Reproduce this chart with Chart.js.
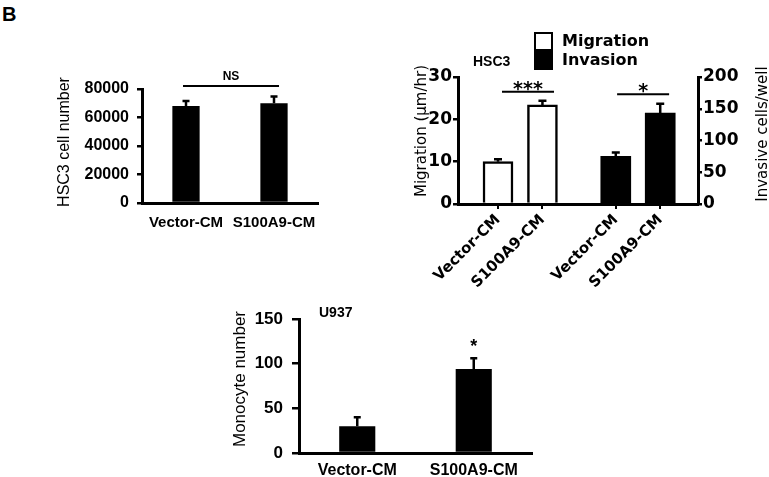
<!DOCTYPE html>
<html>
<head>
<meta charset="utf-8">
<script src="https://cdn.jsdelivr.net/npm/chart.js@4.4.1/dist/chart.umd.min.js"></script>
<style>
  body { margin: 0; background: #fff; }
  #wrap { position: relative; width: 769px; height: 477px; overflow: hidden; background: #fff; }
  canvas { position: absolute; }
  #tag { position: absolute; left: 2px; top: 3px; font: bold 20px "Liberation Sans", Arial, sans-serif; }
</style>
</head>
<body>
<div id="wrap">
  <div id="tag">B</div>
  <canvas id="countChart" width="279" height="190" style="left:51px;top:50px"></canvas>
  <canvas id="migChart" width="359" height="300" style="left:410px;top:0px"></canvas>
  <canvas id="monoChart" width="316" height="197" style="left:226px;top:280px"></canvas>
</div>
<script>
// HSC3 cell count
const countLabels = ['Vector-CM', 'S100A9-CM'];
const countMean = [68000, 70000];
const countSem = [3500, 4800];

// HSC3 migration / invasion
const migLabels = ['Vector-CM', 'S100A9-CM', 'Vector-CM', 'S100A9-CM'];
const migrationMean = [10, 23.4];
const migrationSem = [0.6, 1.0];
const invasionMean = [75, 143];
const invasionSem = [6, 15];

// U937 monocyte recruitment
const monoLabels = ['Vector-CM', 'S100A9-CM'];
const monoMean = [30, 94];
const monoSem = [10, 12];

const ARIAL = '"Liberation Sans", Arial, sans-serif';
const DEJAVU = '"DejaVu Sans", sans-serif';
Chart.defaults.font.family = ARIAL;
Chart.defaults.color = '#000';

// upper error bars
const errorBars = {
  id: 'errorBars',
  afterDatasetsDraw(chart, args, opts) {
    const ctx = chart.ctx;
    ctx.save();
    ctx.strokeStyle = '#000';
    ctx.lineWidth = opts.width || 2.5;
    chart.data.datasets.forEach((ds, i) => {
      const meta = chart.getDatasetMeta(i);
      const scale = chart.scales[meta.yAxisID];
      meta.data.forEach((bar, j) => {
        const v = meta.controller.getParsed(j).y;
        const top = scale.getPixelForValue(v + ds.errors[j]);
        const cap = opts.cap || 4;
        ctx.beginPath();
        ctx.moveTo(bar.x, bar.y);
        ctx.lineTo(bar.x, top);
        ctx.moveTo(bar.x - cap, top);
        ctx.lineTo(bar.x + cap, top);
        ctx.stroke();
      });
    });
    ctx.restore();
  }
};

// significance lines and stars
const sigMarks = {
  id: 'sigMarks',
  afterDraw(chart, args, opts) {
    const ctx = chart.ctx;
    const xs = chart.scales.x;
    ctx.save();
    ctx.strokeStyle = '#000';
    ctx.fillStyle = '#000';
    ctx.lineWidth = 2;
    ctx.font = opts.font;
    ctx.textAlign = 'center';
    ctx.textBaseline = 'alphabetic';
    (opts.marks || []).forEach(m => {
      const ys = chart.scales[m.axis || 'y'];
      const x1 = xs.getPixelForValue(m.x1);
      const x2 = xs.getPixelForValue(m.x2);
      const y = ys.getPixelForValue(m.y);
      if (m.line) {
        ctx.beginPath();
        ctx.moveTo(x1, y);
        ctx.lineTo(x2, y);
        ctx.stroke();
      }
      ctx.fillText(m.text, (x1 + x2) / 2, y - (m.gap || 0));
    });
    ctx.restore();
  }
};

// free text (panel tags, axis titles)
const notes = {
  id: 'notes',
  afterDraw(chart, args, opts) {
    const ctx = chart.ctx;
    (opts.items || []).forEach(n => {
      ctx.save();
      ctx.fillStyle = '#000';
      ctx.font = n.font;
      ctx.textAlign = n.align || 'left';
      ctx.textBaseline = 'middle';
      ctx.translate(n.x, n.y);
      if (n.rotate) ctx.rotate(n.rotate);
      ctx.fillText(n.text, 0, 0);
      ctx.restore();
    });
  }
};

// vertical legend with square swatches
const stackLegend = {
  id: 'stackLegend',
  afterDraw(chart, args, opts) {
    const ctx = chart.ctx;
    ctx.save();
    ctx.font = opts.font;
    ctx.textBaseline = 'middle';
    chart.data.datasets.forEach((ds, i) => {
      const y = opts.y + i * opts.gap;
      ctx.fillStyle = ds.backgroundColor;
      ctx.fillRect(opts.x, y, opts.box, opts.box);
      ctx.strokeStyle = '#000';
      ctx.lineWidth = 2;
      ctx.strokeRect(opts.x, y, opts.box, opts.box);
      ctx.fillStyle = '#000';
      ctx.fillText(ds.label, opts.x + opts.box + 10, y + opts.box / 2);
    });
    ctx.restore();
  }
};

const plain = v => String(v);
const UP = -Math.PI / 2;

// panel 1: cell number
new Chart(document.getElementById('countChart'), {
  type: 'bar',
  data: {
    labels: countLabels,
    datasets: [{
      data: countMean,
      errors: countSem,
      backgroundColor: '#000',
      barPercentage: 0.31,
      categoryPercentage: 1
    }]
  },
  options: {
    responsive: false,
    animation: false,
    layout: { padding: { top: 39, right: 12, left: 0, bottom: 0 } },
    plugins: {
      legend: { display: false },
      tooltip: { enabled: false },
      errorBars: { cap: 3.5 },
      sigMarks: {
        font: 'bold 12px ' + ARIAL,
        marks: [{ x1: -0.034, x2: 1.057, y: 82100, text: 'NS', line: true, gap: 6 }]
      },
      notes: {
        items: [{ text: 'HSC3 cell number', x: 14, y: 92, rotate: UP, align: 'center', font: '16px ' + ARIAL }]
      }
    },
    scales: {
      x: {
        grid: { display: false },
        border: { color: '#000', width: 3 },
        ticks: { padding: 3, autoSkip: false, maxRotation: 0, minRotation: 0, font: { size: 15, weight: 'bold' } },
        afterFit: s => { s.height = 37; }
      },
      y: {
        min: 0, max: 80000,
        ticks: { stepSize: 20000, padding: 8, callback: plain, font: { size: 16, weight: 'bold' } },
        grid: { drawOnChartArea: false, color: '#000', lineWidth: 2.5, tickLength: 5 },
        border: { color: '#000', width: 3 },
        afterFit: s => { s.width = 91; }
      }
    }
  },
  plugins: [errorBars, sigMarks, notes]
});

// panel 2: migration (left axis) and invasion (right axis)
const slots = [0.9, 1.9, 3.55, 4.55];
new Chart(document.getElementById('migChart'), {
  type: 'bar',
  data: {
    datasets: [{
      label: 'Migration',
      data: migrationMean.map((v, i) => ({ x: slots[i], y: v })),
      errors: migrationSem,
      yAxisID: 'y',
      backgroundColor: '#fff',
      borderColor: '#000',
      borderWidth: 2.5
    }, {
      label: 'Invasion',
      data: invasionMean.map((v, i) => ({ x: slots[i + 2], y: v })),
      errors: invasionSem,
      yAxisID: 'y1',
      backgroundColor: '#000',
      borderColor: '#000',
      borderWidth: 0
    }]
  },
  options: {
    responsive: false,
    animation: false,
    layout: { padding: { top: 77, right: 0, left: 0, bottom: 0 } },
    datasets: { bar: { grouped: false, barThickness: 30 } },
    plugins: {
      legend: { display: false },
      tooltip: { enabled: false },
      errorBars: { cap: 4 },
      sigMarks: {
        font: 'bold 19px ' + DEJAVU,
        marks: [
          { x1: 0.99, x2: 2.16, y: 26.5, axis: 'y', text: '***', line: true, gap: -3 },
          { x1: 3.58, x2: 4.75, y: 173, axis: 'y1', text: '*', line: true, gap: -3 }
        ]
      },
      stackLegend: { x: 125, y: 33, box: 17, gap: 19, font: 'bold 16px ' + DEJAVU },
      notes: {
        items: [
          { text: 'HSC3', x: 63, y: 62, font: 'bold 14px ' + ARIAL },
          { text: 'Migration (µm/hr)', x: 12, y: 131, rotate: UP, align: 'center', font: '15px ' + DEJAVU },
          { text: 'Invasive cells/well', x: 353, y: 134, rotate: UP, align: 'center', font: '15px ' + DEJAVU }
        ]
      }
    },
    scales: {
      x: {
        type: 'linear', min: 0, max: 5.4, offset: false,
        afterBuildTicks: s => { s.ticks = slots.map(v => ({ value: v })); },
        afterFit: s => { s.height = 96; },
        ticks: {
          autoSkip: false, minRotation: 45, maxRotation: 45, padding: 2,
          font: { family: DEJAVU, size: 15, weight: 'bold' },
          callback: (v, i) => migLabels[i]
        },
        grid: { offset: false, drawOnChartArea: false, color: '#000', lineWidth: 2, tickLength: 5 },
        border: { color: '#000', width: 3 }
      },
      y: {
        position: 'left', min: 0, max: 30,
        ticks: { stepSize: 10, padding: 1, font: { family: DEJAVU, size: 17, weight: 'bold' } },
        grid: { drawOnChartArea: false, color: '#000', lineWidth: 2.5, tickLength: 5 },
        border: { color: '#000', width: 3 },
        afterFit: s => { s.width = 48; }
      },
      y1: {
        position: 'right', min: 0, max: 200,
        ticks: { stepSize: 50, padding: 1, font: { family: DEJAVU, size: 17, weight: 'bold' } },
        grid: { drawOnChartArea: false, color: '#000', lineWidth: 2.5, tickLength: 4 },
        border: { color: '#000', width: 3 },
        afterFit: s => { s.width = 71; }
      }
    }
  },
  plugins: [errorBars, sigMarks, stackLegend, notes]
});

// panel 3: monocyte number
new Chart(document.getElementById('monoChart'), {
  type: 'bar',
  data: {
    labels: monoLabels,
    datasets: [{
      data: monoMean,
      errors: monoSem,
      backgroundColor: '#000',
      barPercentage: 0.31,
      categoryPercentage: 1
    }]
  },
  options: {
    responsive: false,
    animation: false,
    layout: { padding: { top: 39, right: 10, left: 0, bottom: 0 } },
    plugins: {
      legend: { display: false },
      tooltip: { enabled: false },
      errorBars: { cap: 3.5 },
      sigMarks: {
        font: 'bold 18px ' + ARIAL,
        marks: [{ x1: 1, x2: 1, y: 113, text: '*', line: false }]
      },
      notes: {
        items: [
          { text: 'U937', x: 93, y: 33, font: 'bold 14px ' + ARIAL },
          { text: 'Monocyte number', x: 14, y: 99, rotate: UP, align: 'center', font: '17px ' + ARIAL }
        ]
      }
    },
    scales: {
      x: {
        grid: { display: false },
        border: { color: '#000', width: 3 },
        ticks: { padding: 0, autoSkip: false, maxRotation: 0, minRotation: 0, font: { size: 16, weight: 'bold' } },
        afterFit: s => { s.height = 24; }
      },
      y: {
        min: 0, max: 150,
        ticks: { stepSize: 50, padding: 9, font: { size: 17, weight: 'bold' } },
        grid: { drawOnChartArea: false, color: '#000', lineWidth: 2.5, tickLength: 7 },
        border: { color: '#000', width: 3 },
        afterFit: s => { s.width = 73; }
      }
    }
  },
  plugins: [errorBars, sigMarks, notes]
});
</script>
</body>
</html>
